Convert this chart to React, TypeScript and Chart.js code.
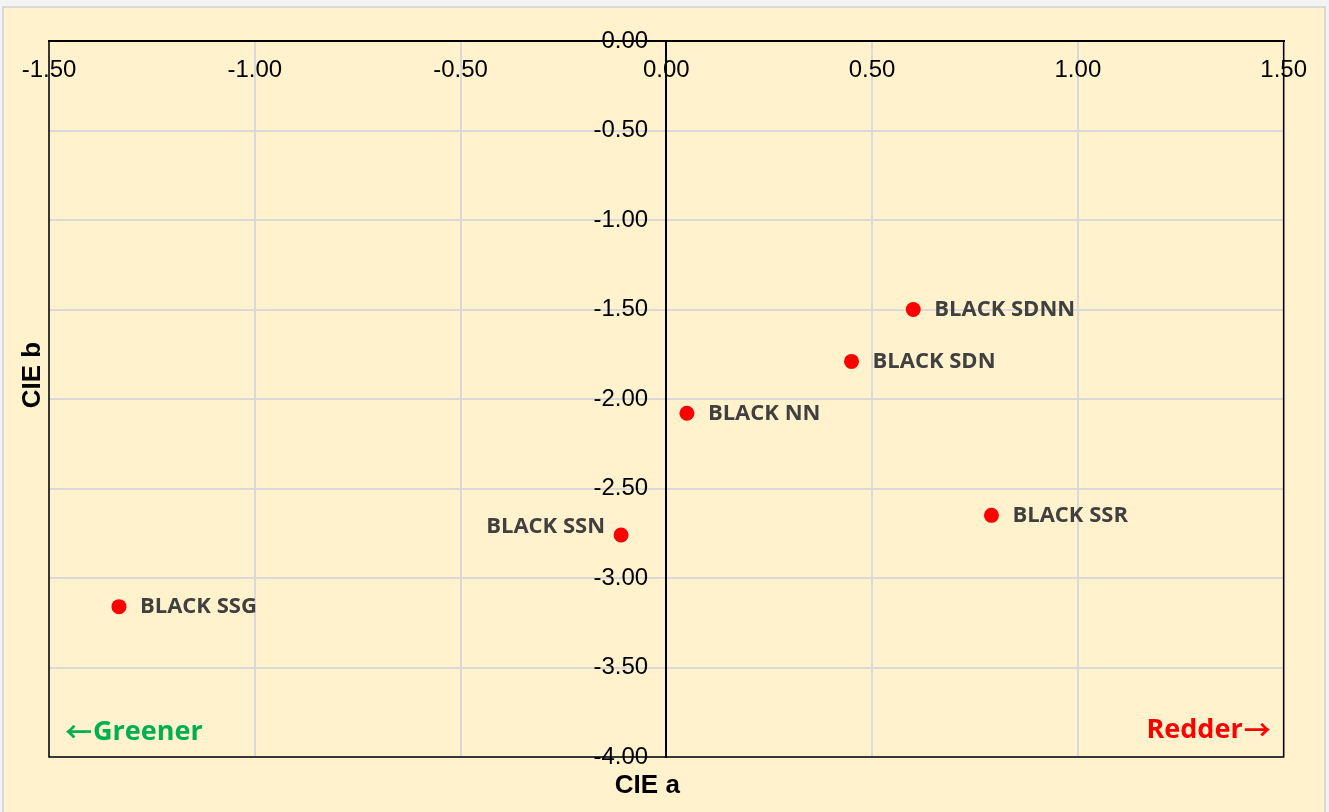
import React, { useEffect, useRef } from 'react';
import { Chart, registerables } from 'chart.js';

Chart.register(...registerables);

// ---- data ----
const sampleNames = ['BLACK SDNN', 'BLACK SDN', 'BLACK NN', 'BLACK SSR', 'BLACK SSN', 'BLACK SSG'];
const cieA = [0.6, 0.45, 0.05, 0.79, -0.11, -1.33];
const cieB = [-1.5, -1.79, -2.08, -2.65, -2.76, -3.16];
const xTickValues = [-1.5, -1.0, -0.5, 0, 0.5, 1.0, 1.5];
const yTickValues = [0, -0.5, -1.0, -1.5, -2.0, -2.5, -3.0, -3.5, -4.0];
const xTitle = 'CIE a';
const yTitle = 'CIE b';
const leftNoteText = 'Greener';
const rightNoteText = 'Redder';
const leftArrow = '←';
const rightArrow = '→';

// label placement (style only)
const labelOnLeft = new Set(['BLACK SSN']);
const arrowFont = '700 27px "Noto Sans CJK SC", "DejaVu Sans", sans-serif';
const noteFont = '700 27px "Open Sans", sans-serif';

const overlayPlugin = {
  id: 'overlay',
  beforeDatasetsDraw(chart: any) {
    const { ctx, chartArea: a } = chart;
    ctx.save();
    ctx.strokeStyle = '#000000';
    ctx.lineWidth = 1.5;
    ctx.strokeRect(a.left, a.top, a.right - a.left, a.bottom - a.top);
    ctx.restore();
  },
  afterDatasetsDraw(chart: any) {
    const { ctx, chartArea: a } = chart;
    const meta = chart.getDatasetMeta(0);
    ctx.save();
    ctx.font = '700 22px "Open Sans"';
    ctx.fillStyle = '#404040';
    ctx.textBaseline = 'middle';
    meta.data.forEach((pt: any, i: number) => {
      const name = sampleNames[i];
      if (labelOnLeft.has(name)) {
        ctx.textAlign = 'right';
        ctx.fillText(name, pt.x - 16, pt.y - 8);
      } else {
        ctx.textAlign = 'left';
        ctx.fillText(name, pt.x + 21, pt.y);
      }
    });

    // left note: arrow + text
    ctx.textAlign = 'left';
    ctx.fillStyle = '#00b050';
    const ly = a.bottom - 25;
    ctx.font = arrowFont;
    const lax = a.left + 16;
    ctx.fillText(leftArrow, lax, ly);
    const law = ctx.measureText(leftArrow).width;
    ctx.font = noteFont;
    ctx.fillText(leftNoteText, lax + law + 1, ly);

    // right note: text + arrow
    ctx.fillStyle = '#ff0000';
    const ry = a.bottom - 27;
    ctx.font = arrowFont;
    const raw = ctx.measureText(rightArrow).width;
    ctx.textAlign = 'right';
    ctx.fillText(rightArrow, a.right - 13, ry);
    ctx.font = noteFont;
    ctx.fillText(rightNoteText, a.right - 13 - raw - 1, ry);

    ctx.fillStyle = '#000000';
    ctx.font = '700 26px "Liberation Sans"';
    ctx.textAlign = 'center';
    ctx.fillText(xTitle, (a.left + a.right) / 2 - 19, a.bottom + 29);
    ctx.translate(a.left - 16, (a.top + a.bottom) / 2 - 24);
    ctx.rotate(-Math.PI / 2);
    ctx.fillText(yTitle, 0, 0);
    ctx.restore();
  },
};

const tickFont = { family: '"Liberation Sans", Arial, sans-serif', size: 24 };
const fmt = (v: any) => Number(v).toFixed(2);

export default function App() {
  const canvasRef = useRef<HTMLCanvasElement | null>(null);

  useEffect(() => {
    if (!canvasRef.current) return;
    const chart = new Chart(canvasRef.current, {
      type: 'scatter',
      data: {
        datasets: [
          {
            label: 'samples',
            data: cieA.map((x, i) => ({ x, y: cieB[i] })),
            backgroundColor: '#ff0000',
            borderColor: '#ff0000',
            borderWidth: 0,
            pointRadius: 7.5,
            pointHoverRadius: 7.5,
          },
        ],
      },
      options: {
        responsive: false,
        animation: false,
        devicePixelRatio: 1,
        layout: { padding: { left: 45, top: 33, right: 38, bottom: 55 } },
        plugins: { legend: { display: false }, tooltip: { enabled: false } },
        scales: {
          x: {
            type: 'linear',
            position: { y: 0 } as any,
            min: -1.5,
            max: 1.5,
            afterBuildTicks: (scale: any) => {
              scale.ticks = xTickValues.map((v) => ({ value: v }));
            },
            ticks: {
              autoSkip: false,
              maxRotation: 0,
              padding: 15,
              color: '#000000',
              font: tickFont,
              callback: fmt,
            },
            grid: { color: '#d9d9d9', lineWidth: 2, drawTicks: false },
            border: { display: true, color: '#000000', width: 2 },
          },
          y: {
            type: 'linear',
            position: { x: 0 } as any,
            min: -4,
            max: 0,
            afterBuildTicks: (scale: any) => {
              scale.ticks = yTickValues.map((v) => ({ value: v }));
            },
            ticks: { display: false },
            grid: { color: '#d9d9d9', lineWidth: 2, drawTicks: false },
            border: { display: true, color: '#000000', width: 2 },
          },
          yLabels: {
            type: 'linear',
            position: { x: -0.044 } as any,
            min: -4,
            max: 0,
            afterBuildTicks: (scale: any) => {
              scale.ticks = yTickValues.map((v) => ({ value: v }));
            },
            ticks: {
              autoSkip: false,
              color: '#000000',
              font: tickFont,
              callback: fmt,
            },
            grid: { display: false, drawTicks: false },
            border: { display: false },
          },
        },
      },
      plugins: [overlayPlugin],
    });
    return () => chart.destroy();
  }, []);

  return (
    <div
      style={{
        position: 'fixed',
        left: 0,
        top: 0,
        width: 1329,
        height: 812,
        background: '#f3f3f3',
        overflow: 'hidden',
      }}
    >
      <div
        style={{
          position: 'absolute',
          left: 2,
          top: 6,
          width: 1324,
          height: 830,
          border: '2px solid #d9d9d9',
          boxSizing: 'border-box',
          background: '#fff2cc',
        }}
      >
        <canvas
          ref={canvasRef}
          width={1318}
          height={804}
          style={{ position: 'absolute', left: 0, top: 0, width: 1318, height: 804 }}
        />
      </div>
    </div>
  );
}
